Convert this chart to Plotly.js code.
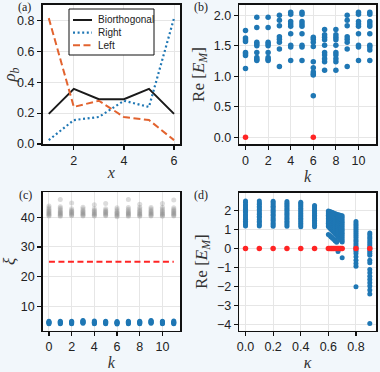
<!DOCTYPE html>
<html>
<head>
<meta charset="utf-8">
<script src="https://cdn.plot.ly/plotly-3.0.1.min.js"></script>
<style>html,body{margin:0;padding:0;background:#f2f7fb;}#plot{width:380px;height:372px;}</style>
</head>
<body>
<div id="plot"></div>
<script>
// ---- Panel (a): densities ----
const sitesA = [1, 2, 3, 4, 5, 6];
const rhoBiorthogonal = [0.195, 0.357, 0.29, 0.29, 0.357, 0.195];
const rhoRight = [0.025, 0.155, 0.175, 0.28, 0.24, 0.815];
const rhoLeft = [0.815, 0.24, 0.28, 0.175, 0.155, 0.025];
const legendNames = ['Biorthogonal', 'Right', 'Left'];

// ---- Panel (b): Re[E_M] vs k ----
const kB = [0, 1, 2, 3, 4, 5, 6, 7, 8, 9, 10, 11];
const reB = [
  [1.13, 1.34, 1.37, 1.39, 1.57, 1.60, 1.63, 1.75],
  [1.26, 1.28, 1.31, 1.39, 1.50, 1.53, 1.56, 1.80, 1.97],
  [1.26, 1.28, 1.31, 1.39, 1.50, 1.53, 1.56, 1.80, 1.97],
  [1.16, 1.45, 1.56, 1.61, 1.65, 1.83, 1.92, 2.00],
  [1.26, 1.48, 1.51, 1.70, 1.82, 1.86, 1.90, 2.02, 2.05],
  [1.26, 1.48, 1.51, 1.70, 1.82, 1.86, 1.90, 2.02, 2.05],
  [0.68, 1.02, 1.04, 1.07, 1.14, 1.24, 1.49, 1.56, 1.61, 1.64],
  [1.10, 1.24, 1.29, 1.35, 1.39, 1.51, 1.60, 1.64, 1.68, 1.77],
  [1.10, 1.24, 1.29, 1.35, 1.39, 1.51, 1.60, 1.64, 1.68, 1.77],
  [1.16, 1.45, 1.56, 1.61, 1.65, 1.83, 1.92, 2.00],
  [1.26, 1.48, 1.51, 1.70, 1.82, 1.86, 1.90, 2.02, 2.05],
  [1.26, 1.43, 1.48, 1.51, 1.70, 1.82, 1.86, 1.90, 2.02, 2.05]
];
const kZeroB = [0, 6];
const reZeroB = [0, 0];

// ---- Panel (c): xi vs k ----
const kC = [0, 1, 2, 3, 4, 5, 6, 7, 8, 9, 10, 11];
const xiBlue = [
  [4.2, 4.4, 4.6, 4.8, 5.0],
  [4.2, 4.4, 4.6, 4.8, 5.0],
  [4.2, 4.4, 4.6, 4.8, 5.0],
  [4.3, 4.5, 4.7, 4.9, 5.1, 5.3],
  [4.2, 4.4, 4.6, 4.8, 5.1],
  [4.2, 4.4, 4.6, 4.8, 5.0],
  [4.1, 4.3, 4.5, 4.7, 4.9],
  [4.2, 4.4, 4.6, 4.8, 5.0],
  [4.2, 4.4, 4.6, 4.8, 5.0],
  [4.3, 4.5, 4.7, 4.9, 5.1, 5.3],
  [4.2, 4.4, 4.6, 4.8, 5.0],
  [4.2, 4.4, 4.6, 4.8, 5.1]
];
const xiGray = [
  [40.4, 40.7, 41.0, 41.3, 41.6, 41.9, 42.3, 42.7, 43.2, 43.8],
  [40.3, 40.6, 40.9, 41.2, 41.5, 41.8, 42.1, 42.5, 43.0, 43.5, 46.0],
  [40.5, 40.8, 41.1, 41.4, 41.7, 42.0, 42.4, 42.9, 44.8],
  [40.4, 40.7, 41.0, 41.3, 41.6, 41.9, 42.3, 42.8, 43.4],
  [40.4, 40.7, 41.0, 41.3, 41.6, 42.0, 42.4, 42.9, 44.2],
  [40.5, 40.8, 41.1, 41.4, 41.7, 42.0, 42.4, 42.9, 44.6],
  [40.2, 40.5, 40.8, 41.1, 41.4, 41.7, 42.1, 42.6, 43.2],
  [40.3, 40.6, 40.9, 41.2, 41.5, 41.8, 42.2, 42.7, 43.3, 46.0],
  [40.3, 40.6, 40.9, 41.2, 41.5, 41.9, 42.3, 42.8, 43.4, 44.4],
  [40.4, 40.7, 41.0, 41.3, 41.6, 41.9, 42.3, 42.8, 43.3],
  [40.3, 40.6, 40.9, 41.2, 41.5, 41.9, 42.3, 42.8, 43.4, 44.6],
  [40.4, 40.7, 41.0, 41.3, 41.6, 41.9, 42.3, 42.7, 43.2, 45.8]
];
const thresholdK = [0, 11];
const thresholdXi = [25, 25];

// ---- Panel (d): Re[E_M] vs kappa ----
const kappaD = [0, 0.1, 0.2, 0.3, 0.4, 0.5, 0.60, 0.61, 0.62, 0.63, 0.64, 0.65, 0.66, 0.67, 0.68, 0.69, 0.70, 0.8, 0.9];
const reD = [
  [1.18, 1.26, 1.36, 1.43, 1.54, 1.61, 1.71, 1.78, 1.89, 1.96, 2.07, 2.13, 2.24, 2.31, 2.42, 2.50],
  [1.18, 1.25, 1.35, 1.44, 1.52, 1.63, 1.70, 1.80, 1.87, 1.98, 2.05, 2.15, 2.22, 2.33, 2.40, 2.50],
  [1.17, 1.27, 1.34, 1.45, 1.53, 1.62, 1.72, 1.79, 1.90, 1.97, 2.06, 2.16, 2.23, 2.32, 2.41, 2.49],
  [1.17, 1.26, 1.35, 1.43, 1.54, 1.62, 1.71, 1.80, 1.88, 1.97, 2.05, 2.14, 2.22, 2.31, 2.39, 2.47],
  [1.15, 1.24, 1.33, 1.42, 1.51, 1.60, 1.69, 1.77, 1.86, 1.95, 2.04, 2.12, 2.21, 2.29, 2.37, 2.43],
  [1.14, 1.23, 1.32, 1.41, 1.49, 1.58, 1.67, 1.75, 1.84, 1.93, 2.01, 2.09, 2.18, 2.27],
  [0.74, 1.16, 1.24, 1.33, 1.41, 1.50, 1.58, 1.67, 1.75, 1.83, 1.92, 1.98],
  [0.68, 1.08, 1.17, 1.26, 1.34, 1.43, 1.52, 1.61, 1.69, 1.78, 1.87, 1.95],
  [0.61, 1.00, 1.09, 1.18, 1.27, 1.36, 1.45, 1.55, 1.64, 1.73, 1.83, 1.92],
  [0.54, 0.92, 1.01, 1.11, 1.20, 1.30, 1.39, 1.48, 1.58, 1.67, 1.77, 1.89],
  [0.47, 0.84, 0.94, 1.03, 1.13, 1.23, 1.32, 1.42, 1.52, 1.61, 1.71, 1.86],
  [0.40, 0.76, 0.86, 0.96, 1.06, 1.16, 1.26, 1.36, 1.46, 1.56, 1.66, 1.83],
  [0.33, 0.68, 0.78, 0.88, 0.99, 1.09, 1.19, 1.30, 1.40, 1.50, 1.61, 1.80],
  [-0.16, 0.60, 0.70, 0.81, 0.92, 1.02, 1.13, 1.23, 1.34, 1.45, 1.55, 1.66, 1.78],
  [0.51, 0.62, 0.73, 0.84, 0.95, 1.06, 1.17, 1.28, 1.39, 1.50, 1.61, 1.76],
  [0.43, 0.54, 0.65, 0.77, 0.88, 0.99, 1.10, 1.21, 1.33, 1.44, 1.55, 1.74],
  [-0.49, 0.34, 0.45, 0.57, 0.68, 0.80, 0.92, 1.03, 1.15, 1.27, 1.38, 1.50, 1.62, 1.72],
  [-2.02, -0.93, -0.79, -0.62, -0.44, -0.26, -0.15, -0.05, 0.06, 0.16, 0.27, 0.38, 0.48, 0.59, 0.70, 0.80, 0.91, 1.02, 1.12, 1.22, 1.32, 1.42],
  [-3.95, -2.40, -2.19, -1.98, -1.81, -1.63, -1.46, -1.28, -1.10, -0.75, -0.62, -0.35, -0.25, -0.14, -0.03, 0.08, 0.19, 0.29, 0.40, 0.51, 0.61, 0.72, 0.82]
];
const zeroModesD = [0, 0, 0, 0, 0, 0, 0, 0, 0, 0, 0, 0, 0, 0, 0, 0, 0, 0, 0];

// ---- Helpers ----
function flatten(xs, groups) {
  const X = [], Y = [];
  groups.forEach((g, i) => g.forEach(v => { X.push(xs[i]); Y.push(v); }));
  return {x: X, y: Y};
}

const BLUE = '#1f77b4';
const ORANGE = '#e2632f';
const RED = '#ff2424';
const lineStyles = [
  {color: '#1a1a1a', width: 2},
  {color: BLUE, width: 2.2, dash: '2px,2.6px'},
  {color: ORANGE, width: 2, dash: '7px,3.5px'}
];

const fb = flatten(kB, reB);
const fcb = flatten(kC, xiBlue);
const fcg = flatten(kC, xiGray);
const fd = flatten(kappaD, reD);

const traces = [
  {x: sitesA, y: rhoBiorthogonal, name: legendNames[0], mode: 'lines', line: lineStyles[0], xaxis: 'x', yaxis: 'y'},
  {x: sitesA, y: rhoRight, name: legendNames[1], mode: 'lines', line: lineStyles[1], xaxis: 'x', yaxis: 'y'},
  {x: sitesA, y: rhoLeft, name: legendNames[2], mode: 'lines', line: lineStyles[2], xaxis: 'x', yaxis: 'y'},

  {x: fb.x, y: fb.y, mode: 'markers', marker: {color: BLUE, size: 5.5}, xaxis: 'x2', yaxis: 'y2'},
  {x: kZeroB, y: reZeroB, mode: 'markers', marker: {color: RED, size: 5.5}, xaxis: 'x2', yaxis: 'y2'},

  {x: fcg.x, y: fcg.y, mode: 'markers', marker: {color: '#8a8a8a', size: 5, opacity: 0.3}, xaxis: 'x3', yaxis: 'y3'},
  {x: fcb.x, y: fcb.y, mode: 'markers', marker: {color: BLUE, size: 5}, xaxis: 'x3', yaxis: 'y3'},
  {x: thresholdK, y: thresholdXi, mode: 'lines', line: {color: RED, width: 2, dash: '6px,3.5px'}, xaxis: 'x3', yaxis: 'y3'},

  {x: fd.x, y: fd.y, mode: 'markers', marker: {color: BLUE, size: 5}, xaxis: 'x4', yaxis: 'y4'},
  {x: kappaD, y: zeroModesD, mode: 'markers', marker: {color: RED, size: 5.5}, xaxis: 'x4', yaxis: 'y4'}
];

const W = 380, H = 372;
const px = (a, b) => [a / W, b / W];
const py = (top, bottom) => [(H - bottom) / H, (H - top) / H];

const serif = {family: 'Liberation Serif, DejaVu Serif, serif', size: 16, color: '#333'};
const serifY = {family: 'Liberation Serif, DejaVu Serif, serif', size: 17, color: '#333'};
const ax = (extra) => Object.assign({
  showline: true, mirror: true, linecolor: '#111', linewidth: 1.6,
  ticks: 'outside', ticklen: 4, tickwidth: 1.2, tickcolor: '#111',
  showgrid: true, gridcolor: '#e6e6e6', gridwidth: 1,
  zeroline: false, tickfont: {size: 12.5, color: '#222'}, fixedrange: true
}, extra);

// Compact legend box for panel (a), drawn as layout decoration
const legBox = {x0: 69, x1: 154, y0: 9, y1: 55};
const legRows = [20, 32.7, 45.3];
const legShapes = [{
  type: 'rect', xref: 'paper', yref: 'paper', layer: 'above',
  x0: legBox.x0 / W, x1: legBox.x1 / W, y0: 1 - legBox.y1 / H, y1: 1 - legBox.y0 / H,
  fillcolor: '#ffffff', line: {color: '#111', width: 1}
}].concat(legRows.map((r, i) => ({
  type: 'line', xref: 'paper', yref: 'paper', layer: 'above',
  x0: 73 / W, x1: 92 / W, y0: 1 - r / H, y1: 1 - r / H, line: lineStyles[i]
})));
const legAnn = legRows.map((r, i) => ({
  text: legendNames[i], x: 96 / W, y: 1 - r / H, xref: 'paper', yref: 'paper',
  xanchor: 'left', yanchor: 'middle', showarrow: false,
  font: {family: 'Liberation Sans, Arial, sans-serif', size: 10, color: '#222'}
}));

const panelFont = {family: 'Liberation Serif, serif', size: 12, color: '#222'};
const panelAnn = [
  {text: '(a)', x: 16 / W, y: 1, yshift: 2},
  {text: '(b)', x: 192 / W, y: 1, yshift: 2},
  {text: '(c)', x: 17 / W, y: 1 - 188 / H, yshift: 2},
  {text: '(d)', x: 192 / W, y: 1 - 188 / H, yshift: 2}
].map(a => Object.assign({xref: 'paper', yref: 'paper', xanchor: 'left', yanchor: 'top', showarrow: false, font: panelFont}, a));

const layout = {
  width: W, height: H,
  margin: {l: 0, r: 0, t: 0, b: 0},
  paper_bgcolor: '#f2f7fb',
  plot_bgcolor: '#ffffff',
  font: {family: 'Liberation Sans, Arial, sans-serif', size: 12, color: '#222'},
  showlegend: false,
  xaxis: ax({domain: px(42.5, 180.3), anchor: 'y', range: [0.75, 6.25], tickvals: [2, 4, 6],
    title: {text: '<i>x</i>', font: serif, standoff: 0}}),
  yaxis: ax({domain: py(5, 144), anchor: 'x', range: [0, 0.9], tickvals: [0, 0.2, 0.4, 0.6, 0.8], tickformat: '.1f',
    title: {text: '<i>ρ</i><sub><i>b</i></sub>', font: serifY, standoff: 4}}),
  xaxis2: ax({domain: px(239.3, 376), anchor: 'y2', range: [-0.55, 11.55], tickvals: [0, 2, 4, 6, 8, 10],
    title: {text: '<i>k</i>', font: serif, standoff: 0}}),
  yaxis2: ax({domain: py(5, 144), anchor: 'x2', range: [-0.11, 2.17], tickvals: [0, 0.5, 1, 1.5, 2], tickformat: '.1f',
    title: {text: 'Re [<i>E</i><sub><i>M</i></sub>]', font: serifY, standoff: 5}}),
  xaxis3: ax({domain: px(42.7, 180), anchor: 'y3', range: [-0.55, 11.55], tickvals: [0, 2, 4, 6, 8, 10],
    title: {text: '<i>k</i>', font: serif, standoff: 0}}),
  yaxis3: ax({domain: py(192.3, 330.5), anchor: 'x3', range: [1.9, 48.4], tickvals: [10, 20, 30, 40],
    title: {text: '<i>ξ</i>', font: serifY, standoff: 9}}),
  xaxis4: ax({domain: px(239.3, 376), anchor: 'y4', range: [-0.045, 0.945], tickvals: [0, 0.2, 0.4, 0.6, 0.8], tickformat: '.1f',
    title: {text: '<i>κ</i>', font: serif, standoff: 0}}),
  yaxis4: ax({domain: py(192.5, 330.7), anchor: 'x4', range: [-4.33, 2.95], tickvals: [-4, -3, -2, -1, 0, 1, 2],
    title: {text: 'Re [<i>E</i><sub><i>M</i></sub>]', font: serifY, standoff: 5}}),
  shapes: legShapes,
  annotations: panelAnn.concat(legAnn)
};

Plotly.newPlot('plot', traces, layout, {staticPlot: true, displayModeBar: false});
</script>
</body>
</html>
